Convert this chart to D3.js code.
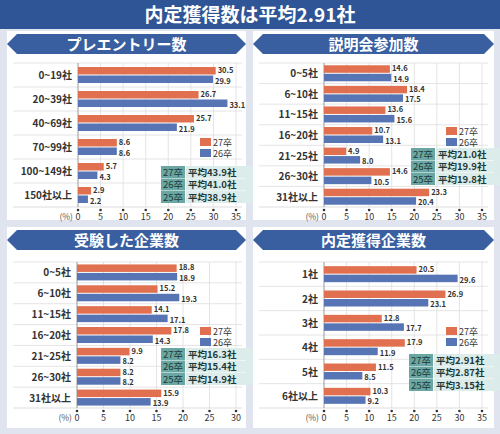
<!DOCTYPE html>
<html><head><meta charset="utf-8">
<script src="https://cdn.jsdelivr.net/npm/d3@7"></script>
<style>body{margin:0;background:#dfe4ee}text{font-family:"Noto Sans CJK JP",sans-serif}</style>
</head><body><svg width="500" height="434"></svg>
<script>
var svg = d3.select("svg");
const ORANGE = "#e0704f", BLUE = "#5775b5", NAVY = "#2f5597";

// data
const entryCats = ["0~19社","20~39社","40~69社","70~99社","100~149社","150社以上"];
const entry27 = [30.5,26.7,25.7,8.6,5.7,2.9];
const entry26 = [29.9,33.1,21.9,8.6,4.3,2.2];
const entryAvg = ["平均43.9社","平均41.0社","平均38.9社"];

const seminarCats = ["0~5社","6~10社","11~15社","16~20社","21~25社","26~30社","31社以上"];
const seminar27 = [14.6,18.4,13.6,10.7,4.9,14.6,23.3];
const seminar26 = [14.9,17.5,15.6,13.1,8.0,10.5,20.4];
const seminarAvg = ["平均21.0社","平均19.9社","平均19.8社"];

const examCats = ["0~5社","6~10社","11~15社","16~20社","21~25社","26~30社","31社以上"];
const exam27 = [18.8,15.2,14.1,17.8,9.9,8.2,15.9];
const exam26 = [18.9,19.3,17.1,14.3,8.2,8.2,13.9];
const examAvg = ["平均16.3社","平均15.4社","平均14.9社"];

const offerCats = ["1社","2社","3社","4社","5社","6社以上"];
const offer27 = [20.5,26.9,12.8,17.9,11.5,10.3];
const offer26 = [29.6,23.1,17.7,11.9,8.5,9.2];
const offerAvg = ["平均2.91社","平均2.87社","平均3.15社"];

const years = ["27卒","26卒","25卒"];
const ticks35 = [0,5,10,15,20,25,30,35];
const ticks30 = [0,5,10,15,20,25,30];

// title bar
svg.append("rect").attr("width",500).attr("height",29).attr("fill",NAVY);
svg.append("text").attr("x",250).attr("y",22).attr("text-anchor","middle")
  .attr("fill","#fff").attr("font-size",19).attr("font-weight","bold").text("内定獲得数は平均2.91社");

function panel(o) {
  var g = svg.append("g");
  g.append("rect").attr("x",o.px).attr("y",o.py).attr("width",o.pw).attr("height",o.ph).attr("fill","#fff");
  // banner
  var bx = o.px, bw = o.pw, by = o.py+3, bh = 20;
  g.append("path").attr("d",`M${bx} ${by+bh/2} L${bx+10} ${by} L${bx+bw-10} ${by} L${bx+bw} ${by+bh/2} L${bx+bw-10} ${by+bh} L${bx+10} ${by+bh} Z`)
    .attr("fill","#3a5fa0");
  g.append("text").attr("x",bx+bw/2).attr("y",by+16).attr("text-anchor","middle").attr("fill","#fff")
    .attr("font-size",15).attr("font-weight","bold").text(o.title);

  var x = d3.scaleLinear().domain([0,o.max]).range([o.x0,o.x1]);
  var y = d3.scaleBand().domain(o.cats).range([o.y0,o.y1]);
  var ticks = o.max == 35 ? ticks35 : ticks30;
  g.selectAll(".grid").data(ticks.slice(1)).enter().append("line")
    .attr("x1",d=>x(d)).attr("x2",d=>x(d)).attr("y1",o.y0).attr("y2",o.y1)
    .attr("stroke","#ddd").attr("stroke-width",0.8);
  g.selectAll(".sep").data(o.cats).enter().append("line")
    .attr("x1",o.px+6).attr("x2",o.x1+6).attr("y1",d=>y(d)).attr("y2",d=>y(d))
    .attr("stroke","#ddd").attr("stroke-width",0.8);
  g.append("line").attr("x1",o.px+6).attr("x2",o.x1+6).attr("y1",o.y1).attr("y2",o.y1).attr("stroke","#ddd");
  g.append("line").attr("x1",x(0)).attr("x2",x(0)).attr("y1",o.y0).attr("y2",o.y1).attr("stroke","#999");

  var bh2 = 7.5, bw_ = y.bandwidth();
  function bars(vals, color, off, cls, dy) {
    g.selectAll("."+cls).data(vals).enter().append("rect")
      .attr("x",x(0)).attr("y",(d,i)=>y(o.cats[i])+bw_/2+off).attr("width",d=>x(d)-x(0))
      .attr("height",bh2).attr("fill",color);
    g.selectAll(".l"+cls).data(vals).enter().append("text")
      .attr("x",d=>x(d)+2).attr("y",(d,i)=>y(o.cats[i])+bw_/2+off+dy)
      .attr("font-size",7.5).attr("font-weight","bold").attr("fill","#333").text(d=>d.toFixed(1));
  }
  bars(o.v27, ORANGE, -bh2-0.5, "a", 6);
  bars(o.v26, BLUE, 0.5, "b", 8);

  g.selectAll(".cat").data(o.cats).enter().append("text")
    .attr("x",x(0)-6).attr("y",d=>y(d)+bw_/2+4).attr("text-anchor","end")
    .attr("font-size",10).attr("font-weight","bold").attr("fill","#333").text(d=>d);

  // axis
  var ay = o.y1 + 9;
  g.selectAll(".dot").data(ticks).enter().append("circle")
    .attr("cx",d=>x(d)).attr("cy",o.y1+3).attr("r",1.3).attr("fill","#333");
  g.selectAll(".tk").data(ticks).enter().append("text")
    .attr("x",d=>x(d)).attr("y",ay+4).attr("text-anchor","middle").attr("font-size",9).attr("fill","#333").text(d=>d);
  g.append("text").attr("x",x(0)-5).attr("y",ay+4).attr("text-anchor","end").attr("font-size",8.5).attr("fill","#555").text("(%)");

  // legend
  var lx = o.lx, ly = o.ly;
  [["27卒",ORANGE],["26卒",BLUE]].forEach(function(d,i){
    g.append("rect").attr("x",lx).attr("y",ly+i*11).attr("width",11).attr("height",8).attr("fill",d[1]);
    g.append("text").attr("x",lx+13).attr("y",ly+i*11+8).attr("font-size",9).attr("fill","#333").text(d[0]);
  });
  // average table
  var tx = o.tx, ty = o.ty;
  o.avg.forEach(function(a,i){
    g.append("rect").attr("x",tx).attr("y",ty+i*12.5).attr("width",24).attr("height",12).attr("fill","#6aa7a2");
    g.append("rect").attr("x",tx+25).attr("y",ty+i*12.5).attr("width",o.tw).attr("height",12).attr("fill","#dcecea");
    g.append("text").attr("x",tx+12).attr("y",ty+i*12.5+9.5).attr("text-anchor","middle").attr("font-size",9.5).attr("fill","#1d3a3a").text(years[i]);
    g.append("text").attr("x",tx+27).attr("y",ty+i*12.5+9.5).attr("font-size",9.5).attr("font-weight","bold").attr("fill","#1d3a3a").text(a);
  });
}

panel({title:"プレエントリー数",px:7,py:31,pw:239,ph:189,cats:entryCats,v27:entry27,v26:entry26,avg:entryAvg,
  max:35,x0:78,x1:236,y0:63,y1:207,lx:200,ly:138,tx:161,ty:166,tw:77});
panel({title:"説明会参加数",px:253,py:31,pw:241,ph:189,cats:seminarCats,v27:seminar27,v26:seminar26,avg:seminarAvg,
  max:35,x0:324,x1:482,y0:63,y1:207,lx:446,ly:127,tx:411,ty:148,tw:77});
panel({title:"受験した企業数",px:7,py:227,pw:239,ph:201,cats:examCats,v27:exam27,v26:exam26,avg:examAvg,
  max:30,x0:77,x1:236,y0:262,y1:408,lx:200,ly:327,tx:161,ty:348,tw:77});
panel({title:"内定獲得企業数",px:253,py:227,pw:241,ph:201,cats:offerCats,v27:offer27,v26:offer26,avg:offerAvg,
  max:35,x0:324,x1:482,y0:262,y1:408,lx:446,ly:327,tx:409,ty:354,tw:79});
</script></body></html>
